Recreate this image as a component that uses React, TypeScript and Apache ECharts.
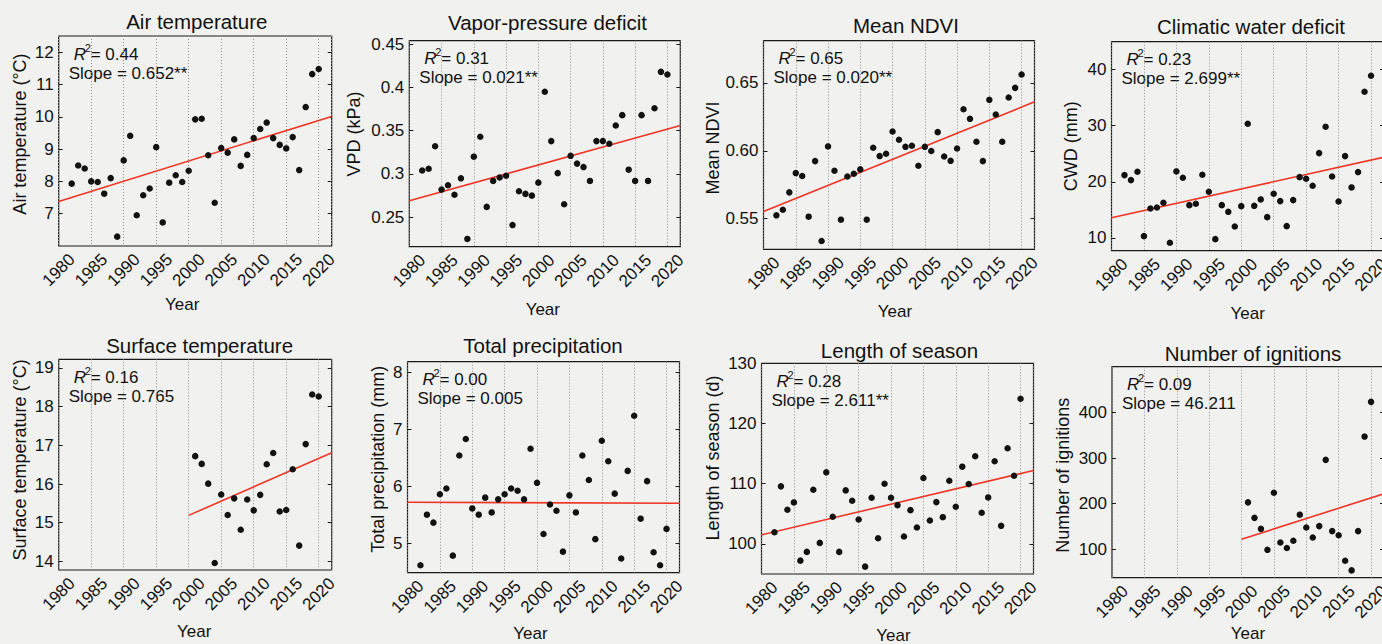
import React, { useEffect, useRef } from "react";
import * as echarts from "echarts";

const FONT = '"Liberation Sans", Arial, Helvetica, sans-serif';
const INK = "#111111";

// ---------- data ----------
const years8220 = [
  1982, 1983, 1984, 1985, 1986, 1987, 1988, 1989, 1990, 1991, 1992, 1993, 1994,
  1995, 1996, 1997, 1998, 1999, 2000, 2001, 2002, 2003, 2004, 2005, 2006, 2007,
  2008, 2009, 2010, 2011, 2012, 2013, 2014, 2015, 2016, 2017, 2018, 2019, 2020,
];
const years0120 = [
  2001, 2002, 2003, 2004, 2005, 2006, 2007, 2008, 2009, 2010, 2011, 2012, 2013,
  2014, 2015, 2016, 2017, 2018, 2019, 2020,
];
const yearTicks = [1980, 1985, 1990, 1995, 2000, 2005, 2010, 2015, 2020];

const airTemp = [
  7.93, 8.49, 8.4, 8.0, 7.98, 7.62, 8.1, 6.29, 8.65, 9.41, 6.95, 7.57, 7.78, 9.06,
  6.73, 7.96, 8.19, 7.98, 8.33, 9.92, 9.94, 8.81, 7.34, 9.03, 8.89, 9.3, 8.48, 8.82,
  9.34, 9.62, 9.82, 9.34, 9.13, 9.02, 9.37, 8.35, 10.3, 11.32, 11.48,
];
const vpd = [
  0.304, 0.306, 0.332, 0.282, 0.287, 0.276, 0.295, 0.225, 0.32, 0.343, 0.262, 0.292,
  0.296, 0.298, 0.241, 0.28, 0.277, 0.275, 0.29, 0.395, 0.338, 0.301, 0.265, 0.321,
  0.312, 0.308, 0.292, 0.338, 0.338, 0.335, 0.356, 0.368, 0.305, 0.292, 0.368, 0.292,
  0.376, 0.418, 0.415,
];
const ndvi = [
  0.5525, 0.5566, 0.5694, 0.5836, 0.5814, 0.5515, 0.5924, 0.5336, 0.6032, 0.5853,
  0.5493, 0.5811, 0.5831, 0.5863, 0.5493, 0.6022, 0.5961, 0.5978, 0.6142, 0.6081,
  0.6029, 0.6037, 0.589, 0.6029, 0.5998, 0.6137, 0.5958, 0.5926, 0.6017, 0.6306,
  0.6235, 0.6066, 0.5924, 0.6375, 0.6267, 0.6066, 0.6392, 0.6463, 0.6561,
];
const cwd = [
  21.19, 20.3, 21.79, 10.3, 15.24, 15.42, 16.25, 9.11, 21.85, 20.71, 15.83, 16.07,
  21.25, 18.21, 9.76, 15.83, 14.64, 12.02, 15.65, 30.36, 15.71, 16.85, 13.69, 17.86,
  16.55, 12.08, 16.73, 20.83, 20.54, 19.29, 25.12, 29.82, 20.95, 16.49, 24.58, 18.99,
  21.73, 36.07, 38.93,
];
const surfTemp = [
  16.72, 16.52, 16.01, 13.96, 15.73, 15.2, 15.63, 14.82, 15.6, 15.32, 15.72, 16.51,
  16.8, 15.29, 15.33, 16.38, 14.41, 17.03, 18.31, 18.26,
];
const precip = [
  4.61, 5.5, 5.36, 5.86, 5.96, 4.78, 6.54, 6.83, 5.61, 5.5, 5.8, 5.54, 5.77, 5.86,
  5.96, 5.92, 5.77, 6.66, 6.06, 5.16, 5.68, 5.57, 4.85, 5.84, 5.54, 6.54, 6.11, 5.07,
  6.8, 6.44, 5.87, 4.73, 6.27, 7.24, 5.43, 6.09, 4.84, 4.61, 5.25,
];
const season = [
  101.94, 109.56, 105.67, 106.89, 97.22, 98.67, 109.0, 100.17, 111.89, 104.5, 98.67,
  108.89, 107.17, 104.06, 96.22, 107.67, 100.94, 110.0, 107.67, 106.44, 101.22,
  105.61, 102.72, 110.94, 103.89, 106.94, 104.44, 110.5, 106.17, 112.83, 109.94,
  114.56, 105.17, 107.72, 113.72, 103.0, 115.89, 111.33, 124.11,
];
const ignitions = [
  203, 169, 145, 99, 224, 115, 103, 119, 176, 148, 126, 151, 296, 140, 131, 75, 54,
  140, 347, 423,
];

// trend lines (read at the start / end of each fitted line)
const trendSpanFull = [1980, 2022];
const trendSpanLate = [2000, 2022];
const trendAir = [7.38, 10.01];
const trendVpd = [0.269, 0.356];
const trendNdvi = [0.5554, 0.636];
const trendCwd = [13.57, 24.4];
const trendSurf = [15.19, 16.81];
const trendPrecip = [5.72, 5.7];
const trendSeason = [101.5, 112.2];
const trendIgn = [122, 222];

// y tick labels
const ticksAir = [7, 8, 9, 10, 11, 12];
const ticksVpd = [0.25, 0.3, 0.35, 0.4, 0.45];
const ticksNdvi = [0.55, 0.6, 0.65];
const ticksCwd = [10, 20, 30, 40];
const ticksSurf = [14, 15, 16, 17, 18, 19];
const ticksPrecip = [5, 6, 7, 8];
const ticksSeason = [100, 110, 120, 130];
const ticksIgn = [100, 200, 300, 400];

const panels = [
  { title: "Air temperature", yName: "Air temperature (°C)", years: years8220, values: airTemp, tx: trendSpanFull, ty: trendAir, yMin: 6, yMax: 12.5, ticks: ticksAir, dec: -1, r2: "0.44", slope: "0.652**" },
  { title: "Vapor-pressure deficit", yName: "VPD (kPa)", years: years8220, values: vpd, tx: trendSpanFull, ty: trendVpd, yMin: 0.216, yMax: 0.454, ticks: ticksVpd, dec: -1, r2: "0.31", slope: "0.021**" },
  { title: "Mean NDVI", yName: "Mean NDVI", years: years8220, values: ndvi, tx: trendSpanFull, ty: trendNdvi, yMin: 0.5275, yMax: 0.681, ticks: ticksNdvi, dec: 2, r2: "0.65", slope: "0.020**" },
  { title: "Climatic water deficit", yName: "CWD (mm)", years: years8220, values: cwd, tx: trendSpanFull, ty: trendCwd, yMin: 7.7, yMax: 45, ticks: ticksCwd, dec: -1, r2: "0.23", slope: "2.699**" },
  { title: "Surface temperature", yName: "Surface temperature (°C)", years: years0120, values: surfTemp, tx: trendSpanLate, ty: trendSurf, yMin: 13.78, yMax: 19.22, ticks: ticksSurf, dec: -1, r2: "0.16", slope: "0.765" },
  { title: "Total precipitation", yName: "Total precipitation (mm)", years: years8220, values: precip, tx: trendSpanFull, ty: trendPrecip, yMin: 4.48, yMax: 8.19, ticks: ticksPrecip, dec: -1, r2: "0.00", slope: "0.005" },
  { title: "Length of season", yName: "Length of season (d)", years: years8220, values: season, tx: trendSpanFull, ty: trendSeason, yMin: 95, yMax: 130, ticks: ticksSeason, dec: -1, r2: "0.28", slope: "2.611**" },
  { title: "Number of ignitions", yName: "Number of ignitions", years: years0120, values: ignitions, tx: trendSpanLate, ty: trendIgn, yMin: 38, yMax: 500, ticks: ticksIgn, dec: -1, r2: "0.09", slope: "46.211" },
];

// ---------- layout (pixels) ----------
const layouts = [
  { left: 58.7, top: 36, width: 273, height: 210, titleX: 196.8, titleY: 21.3, yGap: 30, yShift: -7, xGap: 50, xShift: -13 },
  { left: 409.3, top: 40.7, width: 271, height: 206, titleX: 547.5, titleY: 22, yGap: 46, yShift: -9.7, xGap: 54.5, xShift: -2 },
  { left: 763.5, top: 40.7, width: 271, height: 208.6, titleX: 906, titleY: 25.3, yGap: 41.5, yShift: 3, xGap: 53.5, xShift: -4 },
  { left: 1111.5, top: 41.7, width: 272.5, height: 209, titleX: 1251, titleY: 26.2, yGap: 32, yShift: 0, xGap: 54, xShift: 0 },
  { left: 58.7, top: 359.3, width: 273, height: 210.7, titleX: 199.6, titleY: 345.5, yGap: 30, yShift: -4.7, xGap: 53, xShift: -1 },
  { left: 407.5, top: 361.7, width: 272, height: 211, titleX: 543, titleY: 345.7, yGap: 20.5, yShift: -8, xGap: 52, xShift: -13 },
  { left: 761.5, top: 363.3, width: 272, height: 210.7, titleX: 899.5, titleY: 350, yGap: 39.5, yShift: -10.7, xGap: 52.5, xShift: -4 },
  { left: 1112, top: 366.7, width: 272, height: 211, titleX: 1253, titleY: 353, yGap: 40, yShift: 3, xGap: 47, xShift: 0 },
];

function buildOption() {
  const grid: any[] = [];
  const xAxis: any[] = [];
  const yAxis: any[] = [];
  const series: any[] = [];
  const elements: any[] = [];

  panels.forEach((p, i) => {
    const l = layouts[i];
    grid.push({
      left: l.left,
      top: l.top,
      width: l.width,
      height: l.height,
      show: true,
      borderColor: "#1a1a1a",
      borderWidth: 1.2,
      backgroundColor: "transparent",
      containLabel: false,
      outerBoundsMode: "none",
    });
    const xPad = l.xShift < 0 ? [0, -2 * l.xShift, 0, 0] : [0, 0, 0, 2 * l.xShift];
    xAxis.push({
      type: "value",
      gridIndex: i,
      min: 1980,
      max: 2022,
      interval: 5,
      axisLine: { show: false },
      axisTick: { show: false },
      splitLine: { show: true, lineStyle: { color: "#8c8c8c", type: [1, 2], width: 1 } },
      axisLabel: {
        customValues: yearTicks,
        formatter: (v: number) => String(v),
        rotate: 45,
        align: "center",
        verticalAlign: "middle",
        margin: 24,
        showMinLabel: true,
        showMaxLabel: true,
        fontSize: 17,
        color: INK,
        fontFamily: FONT,
      },
      name: "Year",
      nameLocation: "middle",
      nameGap: l.xGap,
      nameMoveOverlap: false,
      nameTextStyle: { fontSize: 17, color: INK, fontFamily: FONT, padding: xPad },
    });
    const yPad = l.yShift < 0 ? [0, 0, 0, -2 * l.yShift] : [0, 2 * l.yShift, 0, 0];
    const fmt = (v: number) => (p.dec >= 0 ? v.toFixed(p.dec) : String(v));
    yAxis.push({
      type: "value",
      gridIndex: i,
      min: p.yMin,
      max: p.yMax,
      axisLine: { show: false },
      splitLine: { show: false },
      axisTick: { show: true, inside: true, length: 4, customValues: p.ticks, lineStyle: { color: "#1a1a1a", width: 1 } },
      axisLabel: { customValues: p.ticks, formatter: fmt, fontSize: 17, color: INK, fontFamily: FONT, margin: 5, showMinLabel: true, showMaxLabel: true },
      name: p.yName,
      nameLocation: "middle",
      nameGap: l.yGap,
      nameMoveOverlap: false,
      nameTextStyle: { fontSize: 18, color: INK, fontFamily: FONT, padding: yPad },
    });
    yAxis.push({
      type: "value",
      gridIndex: i,
      position: "right",
      min: p.yMin,
      max: p.yMax,
      axisLine: { show: false },
      splitLine: { show: false },
      axisTick: { show: true, inside: true, length: 4, customValues: p.ticks, lineStyle: { color: "#1a1a1a", width: 1 } },
      axisLabel: { show: false },
    });

    series.push({
      type: "line",
      xAxisIndex: i,
      yAxisIndex: 2 * i,
      data: p.tx.map((x, k) => [x, p.ty[k]]),
      symbol: "none",
      lineStyle: { color: "#ee3424", width: 1.6 },
      z: 2,
      silent: true,
    });
    series.push({
      type: "scatter",
      xAxisIndex: i,
      yAxisIndex: 2 * i,
      data: p.years.map((y, k) => [y, p.values[k]]),
      symbolSize: 6.5,
      itemStyle: { color: INK, opacity: 1 },
      z: 3,
      silent: true,
    });

    elements.push({
      type: "text",
      x: l.titleX,
      y: l.titleY,
      style: { text: p.title, fontSize: 20.5, fontFamily: FONT, fill: INK, align: "center", verticalAlign: "middle" },
    });
    const rx = l.left + 15;
    const ry = l.top + 18;
    elements.push({
      type: "text",
      x: rx,
      y: ry,
      style: { text: "R", fontSize: 17, fontStyle: "italic", fontFamily: FONT, fill: INK, align: "left", verticalAlign: "middle" },
    });
    elements.push({
      type: "text",
      x: rx + 11,
      y: ry - 6.5,
      style: { text: "2", fontSize: 11, fontFamily: FONT, fill: INK, align: "left", verticalAlign: "middle" },
    });
    elements.push({
      type: "text",
      x: rx + 17,
      y: ry,
      style: { text: "= " + p.r2, fontSize: 17, fontFamily: FONT, fill: INK, align: "left", verticalAlign: "middle" },
    });
    elements.push({
      type: "text",
      x: l.left + 10,
      y: l.top + 37,
      style: { text: "Slope = " + p.slope, fontSize: 17, fontFamily: FONT, fill: INK, align: "left", verticalAlign: "middle" },
    });
  });

  return {
    animation: false,
    backgroundColor: "#f1f1ef",
    textStyle: { fontFamily: FONT },
    grid,
    xAxis,
    yAxis,
    series,
    graphic: { elements },
  };
}

export default function App() {
  const ref = useRef<HTMLDivElement>(null);
  useEffect(() => {
    document.body.style.margin = "0";
    if (!ref.current) return;
    const chart = echarts.init(ref.current, null, { renderer: "svg" });
    chart.setOption(buildOption() as any);
    return () => chart.dispose();
  }, []);
  return (
    <div
      ref={ref}
      style={{ position: "fixed", left: 0, top: 0, width: 1382, height: 644 }}
    />
  );
}
